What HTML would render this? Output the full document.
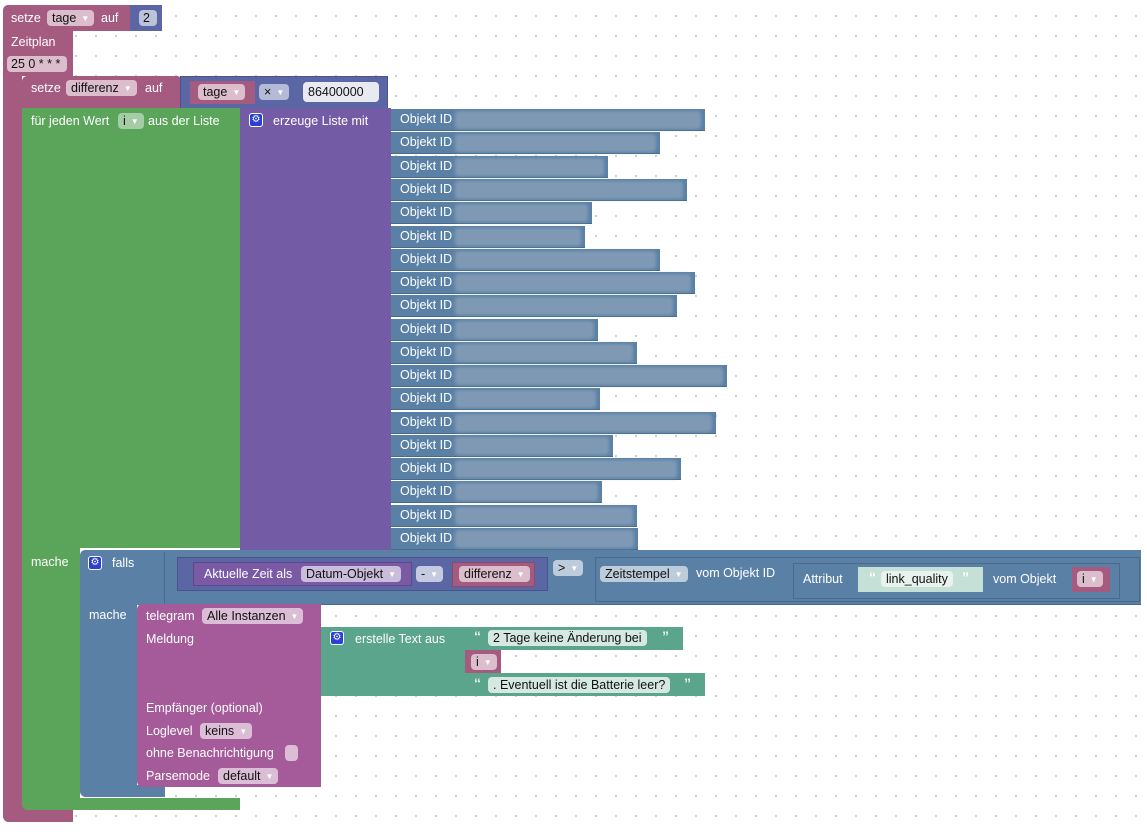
<!DOCTYPE html>
<html><head><meta charset="utf-8"><style>
body{margin:0;width:1147px;height:832px;overflow:hidden;background:#fff;
background-image:radial-gradient(circle,#ccc 1px,transparent 1.3px);background-size:20px 20px;background-position:6px 6px;
font-family:"Liberation Sans",Arial,sans-serif;font-size:12.5px;position:relative}
div{position:absolute;box-sizing:border-box}
.t{color:#fff;white-space:nowrap;line-height:15px}
.f{background:rgba(255,255,255,.6);color:#111;border-radius:4px;height:16px;line-height:16px;padding:0 5px;white-space:nowrap}
.f i{font-style:normal;font-size:8px;color:#fff;margin-left:5px;vertical-align:1px}
.vr{background:#a55b80}.bl{background:#5b80a5}.mt{background:#5b67a5}.gr{background:#5ba55b}.pu{background:#745ba5}.tg{background:#a55b99}.tx{background:#5ba58c}
.gear{width:14px;height:14px;background:#2b3fd6;border:1px solid #fff;border-radius:3px;color:#fff;font-size:10px;line-height:12px;text-align:center}
.ob{background:#5b80a5;height:22px;border-bottom:1px solid #4a6a8c}
.blur{background:#7f99b5;filter:blur(1.5px);height:18px;top:2px;left:64px;border-radius:3px}
</style></head><body>
<!-- setze tage -->
<div class="vr" style="left:3px;top:5px;width:135px;height:26px;border-radius:5px 5px 0 0"></div>
<div class="t" style="left:11px;top:11px">setze</div>
<div class="f" style="left:47px;top:10px">tage<i>▼</i></div>
<div class="t" style="left:101px;top:11px">auf</div>
<div class="mt" style="left:130px;top:5px;width:32px;height:26px"></div>
<div class="f" style="left:139px;top:10px;width:18px;padding:0 4px">2</div>
<!-- Zeitplan -->
<div class="vr" style="left:3px;top:31px;width:70px;height:45px"></div>
<div class="vr" style="left:3px;top:76px;width:19px;height:746px;border-radius:0 0 0 6px"></div>
<div class="vr" style="left:3px;top:805px;width:70px;height:17px;border-radius:0 0 0 6px"></div>
<div class="t" style="left:11px;top:35px">Zeitplan</div>
<div class="f" style="left:7px;top:56px;width:60px;padding:0 4px">25 0 * * *</div>
<!-- setze differenz -->
<div class="vr" style="left:22px;top:76px;width:160px;height:33px;border-radius:5px 5px 0 0"></div>
<div class="t" style="left:31px;top:81px">setze</div>
<div class="f" style="left:66px;top:80px">differenz<i>▼</i></div>
<div class="t" style="left:145px;top:81px">auf</div>
<div class="mt" style="left:180px;top:76px;width:208px;height:33px;border:1px solid #4a548c"></div>
<div class="vr" style="left:190px;top:81px;width:65px;height:23px"></div>
<div class="f" style="left:198px;top:84px">tage<i>▼</i></div>
<div class="f" style="left:259px;top:84px;width:30px;background:rgba(255,255,255,.55)">×<i>▼</i></div>
<div class="f" style="left:303px;top:82px;width:76px;height:20px;line-height:20px;background:#e9e9f2">86400000</div>
<!-- for each -->
<div class="gr" style="left:22px;top:108px;width:218px;height:440px"></div>
<div class="gr" style="left:22px;top:548px;width:58px;height:262px;border-radius:0 0 0 6px"></div>
<div class="gr" style="left:22px;top:798px;width:218px;height:12px;border-radius:0 0 0 6px"></div>
<div class="t" style="left:31px;top:114px">für jeden Wert</div>
<div class="f" style="left:118px;top:113px;background:rgba(255,255,255,.45)">i<i>▼</i></div>
<div class="t" style="left:148px;top:114px">aus der Liste</div>
<div class="t" style="left:31px;top:555px">mache</div>
<!-- list -->
<div class="pu" style="left:240px;top:108px;width:151px;height:442px"></div>
<div class="gear" style="left:249px;top:113px">⚙</div>
<div class="t" style="left:273px;top:114px">erzeuge Liste mit</div>
<div class="ob" style="left:391px;top:109px;width:314px"><div class="blur" style="width:246px"></div><div class="t" style="left:9px;top:3px">Objekt ID</div></div>
<div class="ob" style="left:391px;top:132px;width:269px"><div class="blur" style="width:201px"></div><div class="t" style="left:9px;top:3px">Objekt ID</div></div>
<div class="ob" style="left:391px;top:156px;width:217px"><div class="blur" style="width:149px"></div><div class="t" style="left:9px;top:3px">Objekt ID</div></div>
<div class="ob" style="left:391px;top:179px;width:296px"><div class="blur" style="width:228px"></div><div class="t" style="left:9px;top:3px">Objekt ID</div></div>
<div class="ob" style="left:391px;top:202px;width:201px"><div class="blur" style="width:133px"></div><div class="t" style="left:9px;top:3px">Objekt ID</div></div>
<div class="ob" style="left:391px;top:226px;width:194px"><div class="blur" style="width:126px"></div><div class="t" style="left:9px;top:3px">Objekt ID</div></div>
<div class="ob" style="left:391px;top:249px;width:269px"><div class="blur" style="width:201px"></div><div class="t" style="left:9px;top:3px">Objekt ID</div></div>
<div class="ob" style="left:391px;top:272px;width:304px"><div class="blur" style="width:236px"></div><div class="t" style="left:9px;top:3px">Objekt ID</div></div>
<div class="ob" style="left:391px;top:295px;width:286px"><div class="blur" style="width:218px"></div><div class="t" style="left:9px;top:3px">Objekt ID</div></div>
<div class="ob" style="left:391px;top:319px;width:207px"><div class="blur" style="width:139px"></div><div class="t" style="left:9px;top:3px">Objekt ID</div></div>
<div class="ob" style="left:391px;top:342px;width:246px"><div class="blur" style="width:178px"></div><div class="t" style="left:9px;top:3px">Objekt ID</div></div>
<div class="ob" style="left:391px;top:365px;width:336px"><div class="blur" style="width:268px"></div><div class="t" style="left:9px;top:3px">Objekt ID</div></div>
<div class="ob" style="left:391px;top:388px;width:209px"><div class="blur" style="width:141px"></div><div class="t" style="left:9px;top:3px">Objekt ID</div></div>
<div class="ob" style="left:391px;top:412px;width:325px"><div class="blur" style="width:257px"></div><div class="t" style="left:9px;top:3px">Objekt ID</div></div>
<div class="ob" style="left:391px;top:435px;width:222px"><div class="blur" style="width:154px"></div><div class="t" style="left:9px;top:3px">Objekt ID</div></div>
<div class="ob" style="left:391px;top:458px;width:290px"><div class="blur" style="width:222px"></div><div class="t" style="left:9px;top:3px">Objekt ID</div></div>
<div class="ob" style="left:391px;top:481px;width:211px"><div class="blur" style="width:143px"></div><div class="t" style="left:9px;top:3px">Objekt ID</div></div>
<div class="ob" style="left:391px;top:505px;width:246px"><div class="blur" style="width:178px"></div><div class="t" style="left:9px;top:3px">Objekt ID</div></div>
<div class="ob" style="left:391px;top:528px;width:247px"><div class="blur" style="width:179px"></div><div class="t" style="left:9px;top:3px">Objekt ID</div></div>
<!-- falls -->
<div class="bl" style="left:80px;top:550px;width:1061px;height:55px;border-radius:5px 0 0 0"></div>
<div class="bl" style="left:80px;top:604px;width:57px;height:193px;border-radius:0 0 0 6px"></div>
<div class="bl" style="left:80px;top:785px;width:85px;height:12px;border-radius:0 0 0 6px"></div>
<div class="gear" style="left:88px;top:556px">⚙</div>
<div class="t" style="left:112px;top:556px">falls</div>
<div class="t" style="left:89px;top:608px">mache</div>
<div style="left:164px;top:552px;width:977px;height:53px;border-left:1px solid #4a6a8c;border-bottom:1px solid #4a6a8c"></div>
<div class="mt" style="left:177px;top:557px;width:371px;height:34px;border:1px solid #4a548c"></div>
<div style="left:193px;top:562px;width:219px;height:24px;background:#7a5aa5;border:1px solid #5e4688"></div>
<div class="t" style="left:204px;top:567px">Aktuelle Zeit als</div>
<div class="f" style="left:301px;top:566px">Datum-Objekt<i>▼</i></div>
<div class="f" style="left:416px;top:566px;background:rgba(255,255,255,.65)">-<i>▼</i></div>
<div class="vr" style="left:452px;top:562px;width:83px;height:25px;border:1px solid #8a4a6a"></div>
<div class="f" style="left:459px;top:566px">differenz<i>▼</i></div>
<div class="f" style="left:553px;top:560px;background:rgba(255,255,255,.6)">&gt;<i>▼</i></div>
<div class="bl" style="left:595px;top:557px;width:545px;height:45px;border:1px solid #4a6a8c"></div>
<div class="f" style="left:600px;top:566px;background:rgba(255,255,255,.6)">Zeitstempel<i>▼</i></div>
<div class="t" style="left:696px;top:566px">vom Objekt ID</div>
<div class="bl" style="left:793px;top:563px;width:327px;height:36px;border:1px solid #4a6a8c"></div>
<div class="t" style="left:803px;top:572px">Attribut</div>
<div style="left:858px;top:567px;width:125px;height:25px;background:#c5e0d6"></div>
<div class="t" style="left:869px;top:570px;color:#fff;font-size:14px;font-weight:bold">“</div>
<div class="f" style="left:881px;top:571px;background:#e8f3ee">link_quality</div>
<div class="t" style="left:962px;top:570px;color:#fff;font-size:14px;font-weight:bold">”</div>
<div class="t" style="left:993px;top:572px">vom Objekt</div>
<div class="vr" style="left:1072px;top:567px;width:38px;height:25px"></div>
<div class="f" style="left:1077px;top:571px">i<i>▼</i></div>
<!-- telegram -->
<div class="tg" style="left:137px;top:604px;width:184px;height:183px;border-radius:5px 0 0 6px"></div>
<div class="t" style="left:146px;top:609px">telegram</div>
<div class="f" style="left:202px;top:608px">Alle Instanzen<i>▼</i></div>
<div class="t" style="left:146px;top:632px">Meldung</div>
<div class="t" style="left:146px;top:701px">Empfänger (optional)</div>
<div class="t" style="left:146px;top:724px">Loglevel</div>
<div class="f" style="left:200px;top:723px">keins<i>▼</i></div>
<div class="t" style="left:146px;top:746px">ohne Benachrichtigung</div>
<div class="f" style="left:285px;top:745px;width:13px;padding:0"></div>
<div class="t" style="left:146px;top:769px">Parsemode</div>
<div class="f" style="left:218px;top:768px">default<i>▼</i></div>
<!-- text join -->
<div class="tx" style="left:321px;top:627px;width:144px;height:69px"></div>
<div class="gear" style="left:330px;top:631px">⚙</div>
<div class="t" style="left:355px;top:632px">erstelle Text aus</div>
<div class="tx" style="left:465px;top:627px;width:218px;height:23px"></div>
<div class="t" style="left:474px;top:629px;font-size:14px;font-weight:bold;color:#e5f0ea">“</div>
<div class="f" style="left:488px;top:630px;background:rgba(255,255,255,.75)">2 Tage keine Änderung bei</div>
<div class="t" style="left:662px;top:629px;font-size:14px;font-weight:bold;color:#e5f0ea">”</div>
<div class="vr" style="left:465px;top:650px;width:36px;height:23px"></div>
<div class="f" style="left:471px;top:654px">i<i>▼</i></div>
<div class="tx" style="left:465px;top:673px;width:240px;height:23px"></div>
<div class="t" style="left:474px;top:676px;font-size:14px;font-weight:bold;color:#e5f0ea">“</div>
<div class="f" style="left:488px;top:677px;background:rgba(255,255,255,.75)">. Eventuell ist die Batterie leer?</div>
<div class="t" style="left:684px;top:676px;font-size:14px;font-weight:bold;color:#e5f0ea">”</div>
</body></html>
